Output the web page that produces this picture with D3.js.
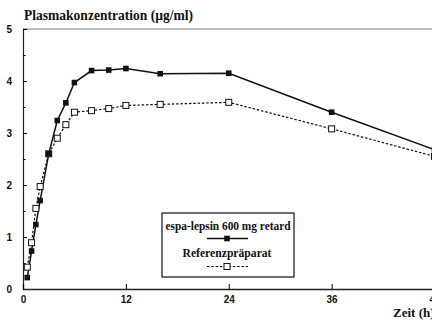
<!DOCTYPE html>
<html>
<head>
<meta charset="utf-8">
<script src="https://cdn.jsdelivr.net/npm/d3@7"></script>
<style>
  body { margin: 0; background: #fff; }
  svg { display: block; }
</style>
</head>
<body>
<div id="chart"></div>
<script>
// hours after dose
const times = [0.5, 1, 1.5, 2, 3, 4, 5, 6, 8, 10, 12, 16, 24, 36, 48];
// espa-lepsin 600 mg retard
const retard = [0.22, 0.73, 1.24, 1.7, 2.6, 3.24, 3.58, 3.97, 4.2, 4.21, 4.24, 4.14, 4.15, 3.4, 2.68];
// Referenzpräparat
const referenz = [0.42, 0.89, 1.55, 1.97, 2.6, 2.9, 3.16, 3.4, 3.43, 3.47, 3.53, 3.55, 3.59, 3.08, 2.55];

const xTicks = [0, 12, 24, 36, 48];
const yTicks = [0, 1, 2, 3, 4, 5];
const yMinor = [0.5, 1.5, 2.5, 3.5, 4.5];

const W = 432, H = 321;
const serif = "'Liberation Serif', 'DejaVu Serif', serif";
const sans = "'Liberation Sans', Arial, sans-serif";

const svg = d3.select("#chart").append("svg")
  .attr("width", W)
  .attr("height", H);

const x = d3.scaleLinear().domain([0, 48]).range([23, 434.5]);
const y = d3.scaleLinear().domain([0, 5]).range([289, 29]);

// frame top line
svg.append("line")
  .attr("x1", x(0)).attr("x2", W)
  .attr("y1", y(5)).attr("y2", y(5))
  .attr("stroke", "#777").attr("stroke-width", 1);

// y axis
const yAxis = svg.append("g")
  .attr("transform", `translate(${x(0)},0)`)
  .call(d3.axisLeft(y).tickValues(yTicks).tickSize(-4).tickPadding(11).tickFormat(d3.format("d")));
yAxis.select(".domain").attr("stroke", "#222").attr("stroke-width", 1.2);
yAxis.selectAll("text").attr("font-family", sans).attr("font-weight", "bold").attr("font-size", 10).attr("fill", "#111");

svg.append("g")
  .attr("transform", `translate(${x(0)},0)`)
  .call(d3.axisLeft(y).tickValues(yMinor).tickSize(-2.5).tickFormat(""))
  .call(g => g.select(".domain").remove());

// x axis
const xAxis = svg.append("g")
  .attr("transform", `translate(0,${y(0)})`)
  .call(d3.axisBottom(x).tickValues(xTicks).tickSize(-5).tickPadding(7).tickFormat(d3.format("d")));
xAxis.select(".domain").attr("stroke", "#222").attr("stroke-width", 1.3);
xAxis.selectAll("text").attr("font-family", sans).attr("font-weight", "bold").attr("font-size", 10).attr("fill", "#111");

// lines
const line = d3.line().x((d, i) => x(times[i])).y(d => y(d));

svg.append("path")
  .datum(referenz)
  .attr("fill", "none").attr("stroke", "#111")
  .attr("stroke-width", 1.2).attr("stroke-dasharray", "2.5,1.8")
  .attr("d", line);

svg.append("path")
  .datum(retard)
  .attr("fill", "none").attr("stroke", "#111")
  .attr("stroke-width", 1.5)
  .attr("d", line);

// markers
svg.selectAll(".ref").data(referenz).enter().append("rect")
  .attr("class", "ref")
  .attr("x", (d, i) => x(times[i]) - 3).attr("y", d => y(d) - 3)
  .attr("width", 6).attr("height", 6)
  .attr("fill", "#fff").attr("stroke", "#111").attr("stroke-width", 1);

svg.selectAll(".ret").data(retard).enter().append("rect")
  .attr("class", "ret")
  .attr("x", (d, i) => x(times[i]) - 2.8).attr("y", d => y(d) - 2.8)
  .attr("width", 5.6).attr("height", 5.6)
  .attr("fill", "#111");

// title
svg.append("text")
  .attr("x", 24).attr("y", 20)
  .attr("font-family", serif).attr("font-weight", "bold").attr("font-size", 14)
  .attr("textLength", 169).attr("lengthAdjust", "spacingAndGlyphs")
  .attr("fill", "#111")
  .text("Plasmakonzentration (µg/ml)");

// x axis title
svg.append("text")
  .attr("x", 393).attr("y", 317)
  .attr("font-family", serif).attr("font-weight", "bold").attr("font-size", 13)
  .attr("fill", "#111")
  .text("Zeit (h)");

// legend
const lg = svg.append("g");
lg.append("rect")
  .attr("x", 162).attr("y", 213).attr("width", 132).attr("height", 64)
  .attr("fill", "#fff").attr("stroke", "#111").attr("stroke-width", 1.2);

lg.append("text")
  .attr("x", 228).attr("y", 230).attr("text-anchor", "middle")
  .attr("font-family", serif).attr("font-weight", "bold").attr("font-size", 12)
  .attr("textLength", 125).attr("lengthAdjust", "spacingAndGlyphs")
  .attr("fill", "#111")
  .text("espa-lepsin 600 mg retard");
lg.append("line")
  .attr("x1", 207).attr("x2", 248).attr("y1", 238.5).attr("y2", 238.5)
  .attr("stroke", "#111").attr("stroke-width", 1.5);
lg.append("rect")
  .attr("x", 227 - 2.8).attr("y", 238.5 - 2.8).attr("width", 5.6).attr("height", 5.6)
  .attr("fill", "#111");

lg.append("text")
  .attr("x", 227).attr("y", 257).attr("text-anchor", "middle")
  .attr("font-family", serif).attr("font-weight", "bold").attr("font-size", 12)
  .attr("textLength", 89).attr("lengthAdjust", "spacingAndGlyphs")
  .attr("fill", "#111")
  .text("Referenzpräparat");
lg.append("line")
  .attr("x1", 207).attr("x2", 248).attr("y1", 266.5).attr("y2", 266.5)
  .attr("stroke", "#111").attr("stroke-width", 1.2).attr("stroke-dasharray", "2.5,1.8");
lg.append("rect")
  .attr("x", 227 - 3).attr("y", 266.5 - 3).attr("width", 6).attr("height", 6)
  .attr("fill", "#fff").attr("stroke", "#111").attr("stroke-width", 1);
</script>
</body>
</html>
